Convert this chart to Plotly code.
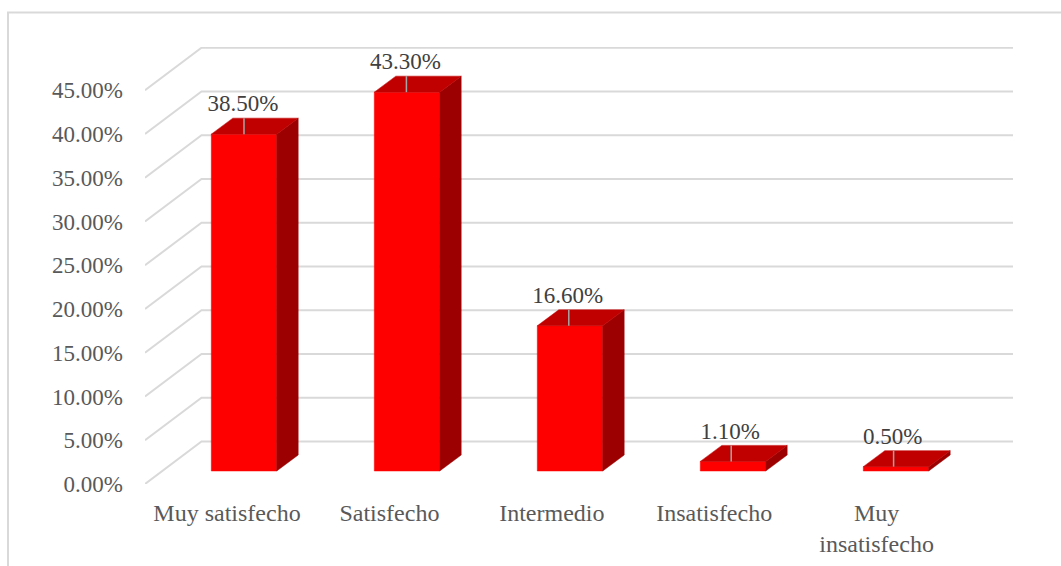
import plotly.graph_objects as go

categories = ["Muy satisfecho", "Satisfecho", "Intermedio", "Insatisfecho", "Muy<br>insatisfecho"]
values = [38.5, 43.3, 16.6, 1.1, 0.5]
value_labels = ["38.50%", "43.30%", "16.60%", "1.10%", "0.50%"]
y_ticks = [0, 5, 10, 15, 20, 25, 30, 35, 40, 45]
y_tick_labels = ["0.00%", "5.00%", "10.00%", "15.00%", "20.00%", "25.00%", "30.00%", "35.00%", "40.00%", "45.00%"]

W, H = 1061, 566
L, R, T, B = 145, 1013, 47, 484
PX_X = 162.4      # pixels per category (labels)
PX_Y = 8.75       # pixels per percent point
BAR_STEP = 163.0 / PX_X
FONT = "Liberation Serif"

xr = [(L - 227) / PX_X, (R - 227) / PX_X]
yr = [0, (B - T) / PX_Y]

wall_dx, wall_dy = 56.5 / PX_X, 42.5 / PX_Y
bar_dx, bar_dy = 21.5 / PX_X, 16 / PX_Y
base = 13 / PX_Y
shift, half = 17 / PX_X, 32.7 / PX_X

fig = go.Figure()
GRID = "#d9d9d9"
gx, gy = [], []
for t in y_ticks:
    gx += [xr[0], xr[0] + wall_dx, xr[1], None]
    gy += [t, t + wall_dy, t + wall_dy, None]
fig.add_trace(go.Scatter(x=gx, y=gy, mode="lines", line=dict(color=GRID, width=2), cliponaxis=False, hoverinfo="skip"))

def poly(xs, ys, color):
    fig.add_trace(go.Scatter(x=xs, y=ys, mode="lines", fill="toself", fillcolor=color,
                             line=dict(color=color, width=0.5), hoverinfo="skip", cliponaxis=False))

for i, v in enumerate(values):
    c = i * BAR_STEP + shift
    x0, x1 = c - half, c + half
    top = v + base
    poly([x0, x1, x1, x0, x0], [base, base, top, top, base], "#ff0000")
    poly([x1, x1 + bar_dx, x1 + bar_dx, x1, x1], [base, base + bar_dy, top + bar_dy, top, base], "#9c0000")
    poly([x0, x1, x1 + bar_dx, x0 + bar_dx, x0], [top, top, top + bar_dy, top + bar_dy, top], "#c00000")
    lead = i + shift
    fig.add_trace(go.Scatter(x=[lead, lead], y=[top, top + bar_dy], mode="lines",
                             line=dict(color="#a6a6a6", width=1.5), hoverinfo="skip", cliponaxis=False))

fig.add_trace(go.Scatter(
    x=[i + shift - 1 / PX_X for i in range(len(values))],
    y=[v + base + bar_dy + 1 / PX_Y for v in values],
    mode="text", text=value_labels, textposition="top center",
    textfont=dict(family=FONT, size=23, color="#404040"), cliponaxis=False, hoverinfo="skip"))

fig.update_layout(
    width=W, height=H, showlegend=False, plot_bgcolor="white", paper_bgcolor="white",
    margin=dict(l=L, r=W - R, t=T, b=H - B, autoexpand=False),
    font=dict(family=FONT, size=23, color="#595959"),
    xaxis=dict(range=xr, tickmode="array", tickvals=list(range(len(categories))), ticktext=categories,
               showgrid=False, zeroline=False, showline=False, ticks="", ticklabelstandoff=12, tickangle=0,
               tickfont=dict(family=FONT, size=24, color="#595959")),
    yaxis=dict(range=yr, tickmode="array", tickvals=y_ticks, ticktext=y_tick_labels,
               showgrid=False, zeroline=False, showline=False, ticks="", ticklabelstandoff=21),
    shapes=[dict(type="rect", xref="paper", yref="paper",
                 x0=(8 - L) / (R - L), x1=(W + 20 - L) / (R - L),
                 y0=(B - H - 20) / (B - T), y1=(B - 12.5) / (B - T),
                 line=dict(color=GRID, width=2), fillcolor="rgba(0,0,0,0)", layer="below")],
)
fig.write_html("out.html", post_script="document.body.style.margin='0';", config={"displayModeBar": False})
